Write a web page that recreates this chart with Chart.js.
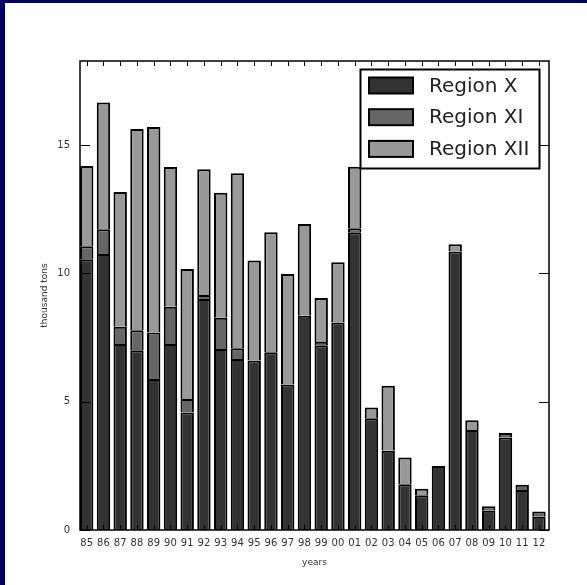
<!DOCTYPE html>
<html>
<head>
<meta charset="utf-8">
<script src="https://cdn.jsdelivr.net/npm/chart.js@4/dist/chart.umd.min.js"></script>
<style>
  html, body { margin: 0; padding: 0; background: #00005f; width: 587px; height: 585px; overflow: hidden; }
  #wrap { position: absolute; left: 5px; top: 3px; width: 582px; height: 582px; background: #ffffff; }
  canvas { display: block; }
</style>
</head>
<body>
<div id="wrap"><canvas id="c" width="582" height="582"></canvas></div>
<script>
const years = ['85','86','87','88','89','90','91','92','93','94','95','96','97','98','99','00','01','02','03','04','05','06','07','08','09','10','11','12'];
const regionX   = [10.55,10.75,7.25,7.0,5.88,7.25,4.58,9.0,7.05,6.66,6.6,6.92,5.67,8.35,7.2,8.08,11.6,4.35,3.09,1.78,1.35,2.49,10.85,3.9,0.75,3.6,1.56,0.52];
const regionXI  = [0.5,0.97,0.67,0.78,1.81,1.45,0.52,0.15,1.22,0.42,0,0,0,0,0.12,0,0.15,0,0,0,0,0,0,0,0.18,0.18,0.2,0.2];
const regionXII = [3.13,4.93,5.25,7.84,8.01,5.44,5.07,4.9,4.87,6.82,3.9,4.68,4.3,3.57,1.72,2.35,2.4,0.42,2.53,1.04,0.26,0,0.28,0.38,0,0,0,0];
const yTicks = [0, 5, 10, 15];
const seriesNames = ['Region X', 'Region XI', 'Region XII'];
const seriesColors = ['#333333', '#666666', '#999999'];

const toPoints = arr => arr.map((v, i) => ({ x: i + 0.4, y: v }));

const frameAndLegend = {
  id: 'frameAndLegend',
  afterDatasetsDraw(chart) {
    const ctx = chart.ctx;
    const { left, right, top, bottom } = chart.chartArea;
    const xs = chart.scales.x, ys = chart.scales.y;
    ctx.save();
    ctx.strokeStyle = '#000';
    ctx.lineWidth = 1;
    xs.ticks.forEach(t => {
      const px = Math.round(xs.getPixelForValue(t.value)) + 0.5;
      ctx.beginPath();
      ctx.moveTo(px, bottom); ctx.lineTo(px, bottom - 5);
      ctx.moveTo(px, top); ctx.lineTo(px, top + 5);
      ctx.stroke();
    });
    ys.ticks.forEach(t => {
      const py = Math.round(ys.getPixelForValue(t.value)) + 0.5;
      ctx.beginPath();
      ctx.moveTo(left, py); ctx.lineTo(left + 10, py);
      ctx.moveTo(right, py); ctx.lineTo(right - 10, py);
      ctx.stroke();
    });
    ctx.lineWidth = 1.5;
    ctx.strokeRect(left, top, right - left, bottom - top);

    const lx = 355.5, ly = 66.5, lw = 179, lh = 99;
    ctx.fillStyle = '#fff';
    ctx.fillRect(lx, ly, lw, lh);
    ctx.lineWidth = 2;
    ctx.strokeRect(lx, ly, lw, lh);
    ctx.font = '20px "DejaVu Sans"';
    ctx.textBaseline = 'middle';
    chart.data.datasets.forEach((ds, i) => {
      const cy = 82.5 + i * 31.7;
      ctx.fillStyle = ds.backgroundColor;
      ctx.fillRect(364, cy - 8, 44, 16);
      ctx.lineWidth = 2;
      ctx.strokeStyle = '#000';
      ctx.strokeRect(364, cy - 8, 44, 16);
      ctx.fillStyle = '#222';
      ctx.fillText(ds.label, 424, cy + 1);
    });
    ctx.restore();
  }
};

new Chart(document.getElementById('c'), {
  type: 'bar',
  data: {
    datasets: [regionX, regionXI, regionXII].map((arr, i) => ({
      label: seriesNames[i],
      data: toPoints(arr),
      backgroundColor: seriesColors[i],
      borderColor: '#000',
      borderWidth: 2,
      borderSkipped: 'start',
      barPercentage: 0.8,
      categoryPercentage: 1.0
    }))
  },
  options: {
    responsive: false,
    animation: false,
    devicePixelRatio: 1,
    layout: { padding: { left: 30, top: 58, right: 38, bottom: 15 } },
    plugins: { legend: { display: false }, tooltip: { enabled: false } },
    scales: {
      x: {
        type: 'linear',
        stacked: true,
        offset: false,
        min: 0,
        max: 28,
        afterBuildTicks: axis => { axis.ticks = years.map((_, i) => ({ value: i + 0.4 })); },
        afterFit: scale => { scale.height = 40; },
        grid: { display: false, drawTicks: false },
        border: { display: false },
        ticks: {
          autoSkip: false, maxRotation: 0, minRotation: 0, padding: 7,
          color: '#333', font: { family: 'DejaVu Sans', size: 10 },
          callback: (v, idx) => years[idx]
        },
        title: { display: true, text: 'years', color: '#333', font: { family: 'DejaVu Sans', size: 9 }, padding: { top: 4, bottom: 2 } }
      },
      y: {
        type: 'linear',
        stacked: true,
        min: 0,
        max: 18.27,
        afterBuildTicks: axis => { axis.ticks = yTicks.map(v => ({ value: v })); },
        afterFit: scale => { scale.width = 45; },
        grid: { display: false, drawTicks: false },
        border: { display: false },
        ticks: { padding: 10, color: '#333', font: { family: 'DejaVu Sans', size: 10 } },
        title: { display: true, text: 'thousand tons', color: '#333', font: { family: 'DejaVu Sans', size: 9 }, padding: { top: 4, bottom: 2 } }
      }
    }
  },
  plugins: [frameAndLegend]
});
</script>
</body>
</html>
